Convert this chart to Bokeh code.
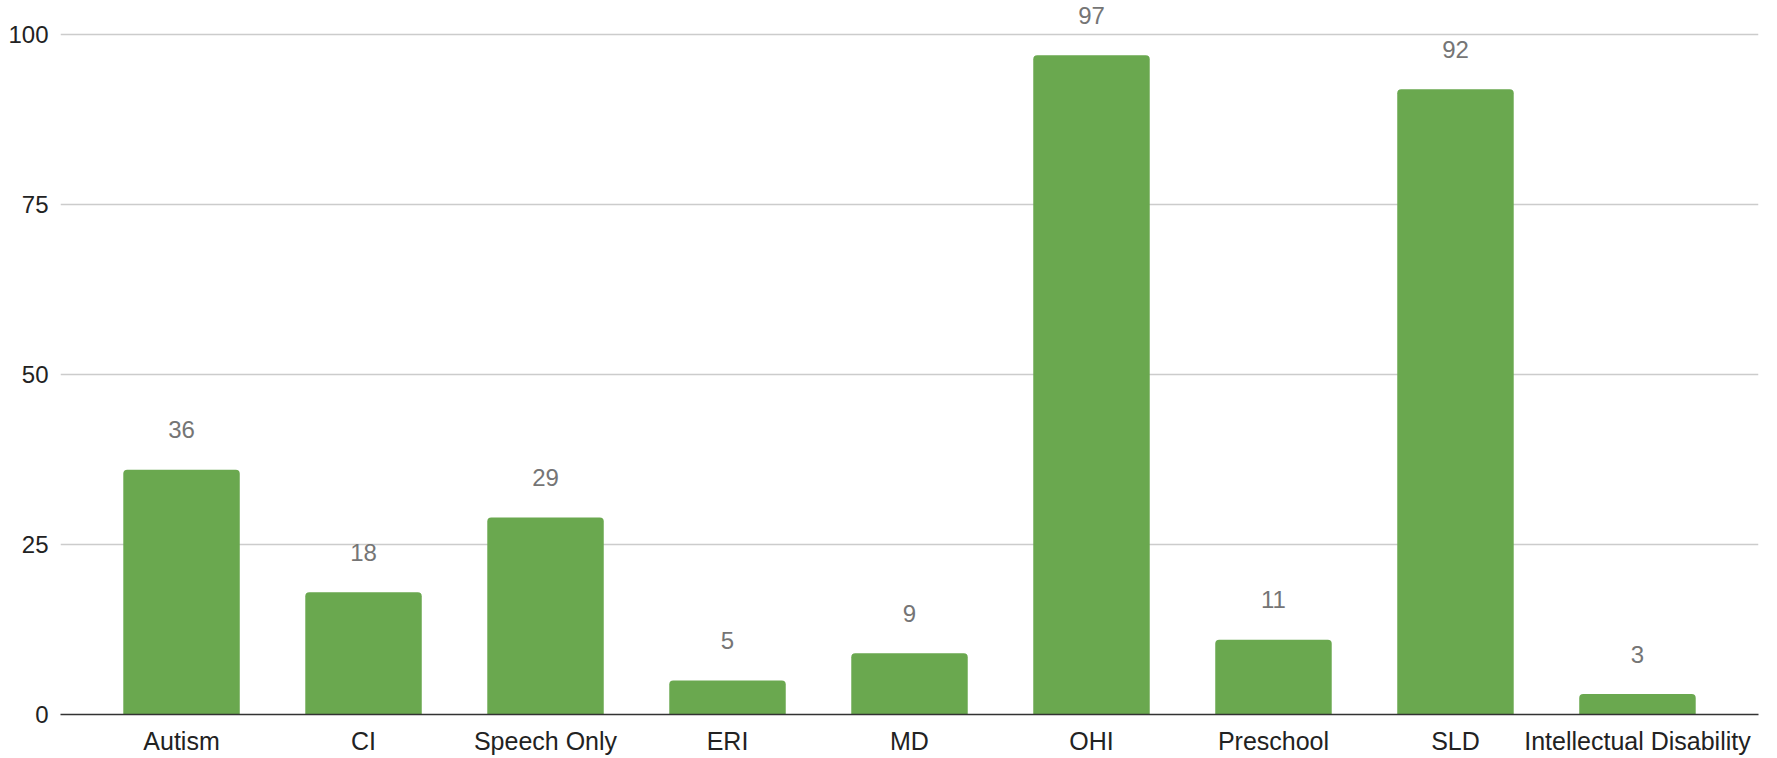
from bokeh.plotting import figure
from bokeh.models import FactorRange, Range1d, FixedTicker, ColumnDataSource
from bokeh.core.properties import value
from bokeh.embed import file_html
from bokeh.resources import INLINE

categories = ["Autism", "CI", "Speech Only", "ERI", "MD", "OHI", "Preschool", "SLD", "Intellectual Disability"]
counts = [36, 18, 29, 5, 9, 97, 11, 92, 3]
y_ticks = [0, 25, 50, 75, 100]

FONT = "Liberation Sans"

src = ColumnDataSource(dict(cat=categories, val=counts, lab=[str(v) for v in counts]))

p = figure(
    x_range=FactorRange(factors=categories, range_padding=0.165, range_padding_units="absolute"),
    y_range=Range1d(0, 105.05),
    width=1776, height=758,
    output_backend="svg", toolbar_location=None,
    min_border_left=60, min_border_right=18, min_border_top=0, min_border_bottom=44,
)
p.outline_line_color = None
p.background_fill_color = "white"
p.border_fill_color = "white"

p.vbar(x="cat", top="val", width=0.64, source=src, fill_color="#6aa84f", line_color=None,
       border_radius=(4, 4, 0, 0))

p.text(x="cat", y="val", text="lab", source=src, y_offset=-40,
       text_align="center", text_baseline="alphabetic",
       text_font=value(FONT), text_font_size="24px", text_color="#757575")

p.xgrid.grid_line_color = None
p.ygrid.ticker = FixedTicker(ticks=y_ticks)
p.ygrid.grid_line_color = "#cccccc"
p.ygrid.grid_line_width = 1.5

p.yaxis.ticker = FixedTicker(ticks=y_ticks)
p.yaxis.axis_line_color = None
p.yaxis.major_tick_line_color = None
p.yaxis.minor_tick_line_color = None
p.yaxis.major_tick_out = 0
p.yaxis.major_label_standoff = 12
p.yaxis.major_label_text_font = FONT
p.yaxis.major_label_text_font_size = "24px"
p.yaxis.major_label_text_color = "#222222"

p.xaxis.axis_line_color = "#333333"
p.xaxis.axis_line_width = 1.5
p.xaxis.major_tick_line_color = None
p.xaxis.minor_tick_line_color = None
p.xaxis.major_tick_out = 0
p.xaxis.major_label_standoff = 12
p.xaxis.major_label_text_font = FONT
p.xaxis.major_label_text_font_size = "25px"
p.xaxis.major_label_text_color = "#222222"

open("out.html", "w").write(file_html(p, INLINE))
